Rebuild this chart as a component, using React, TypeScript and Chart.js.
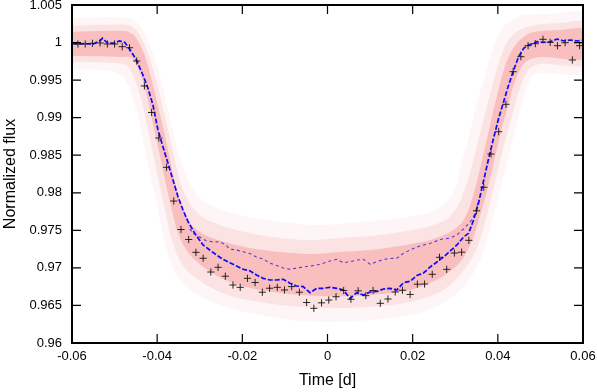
import React, { useEffect, useRef } from 'react';
import { Chart, registerables } from 'chart.js';

Chart.register(...registerables);

// Observed (binned) photometry
const OBS_TIME = [
  -0.0586, -0.0569, -0.0552, -0.0534, -0.0517, -0.0500, -0.0482, -0.0465, -0.0448, -0.0430,
  -0.0413, -0.0396, -0.0378, -0.0361, -0.0344, -0.0326, -0.0309, -0.0292, -0.0274, -0.0257,
  -0.0240, -0.0222, -0.0205, -0.0188, -0.0170, -0.0153, -0.0136, -0.0118, -0.0101, -0.0084,
  -0.0066, -0.0049, -0.0032, -0.0014, 0.0003, 0.0020, 0.0038, 0.0055, 0.0072, 0.0090,
  0.0107, 0.0124, 0.0142, 0.0159, 0.0176, 0.0194, 0.0211, 0.0228, 0.0246, 0.0263,
  0.0280, 0.0298, 0.0315, 0.0332, 0.0350, 0.0367, 0.0384, 0.0402, 0.0419, 0.0436,
  0.0454, 0.0471, 0.0488, 0.0506, 0.0523, 0.0540, 0.0558, 0.0575, 0.0592,
];
const OBS_FLUX = [
  0.99981, 0.99981, 0.99990, 0.99994, 0.99981, 0.99981, 0.99945, 0.99931, 0.99754, 0.99422,
  0.99069, 0.98729, 0.98339, 0.97890, 0.97511, 0.97378, 0.97207, 0.97128, 0.96945, 0.97008,
  0.96889, 0.96772, 0.96741, 0.96861, 0.96805, 0.96676, 0.96729, 0.96741, 0.96706, 0.96751,
  0.96676, 0.96539, 0.96462, 0.96535, 0.96572, 0.96616, 0.96699, 0.96582, 0.96695, 0.96630,
  0.96699, 0.96528, 0.96586, 0.96679, 0.96702, 0.96646, 0.96783, 0.96785, 0.96915, 0.97141,
  0.96981, 0.97198, 0.97209, 0.97367, 0.97760, 0.98073, 0.98516, 0.98813, 0.99178, 0.99612,
  0.99812, 0.99958, 0.99985, 1.00043, 1.00003, 0.99958, 0.99998, 0.99768, 0.99958,
];

// Best-fit model (lower blue dashed curve)
const MODEL_TIME = [
  -0.0600, -0.05824, -0.05659, -0.05518, -0.05353, -0.05282, -0.05188, -0.05047, -0.04882, -0.04765,
  -0.04687, -0.04607, -0.04489, -0.04334, -0.04216, -0.04099, -0.03981, -0.03864, -0.03746, -0.03628,
  -0.03511, -0.03393, -0.03275, -0.03118, -0.02922, -0.02765, -0.02607, -0.02452, -0.02294, -0.02136,
  -0.01981, -0.01824, -0.01666, -0.01511, -0.01353, -0.01195, -0.01040, -0.00882, -0.00725, -0.00569,
  -0.00412, -0.00254, -0.00099, 0.00059, 0.00216, 0.00372, 0.00529, 0.00687, 0.00842, 0.01000,
  0.01158, 0.01313, 0.01471, 0.01628, 0.01784, 0.01941, 0.02099, 0.02254, 0.02412, 0.02569,
  0.02725, 0.02882, 0.03040, 0.03195, 0.03313, 0.03431, 0.03541, 0.03659, 0.03776, 0.03901,
  0.04019, 0.04136, 0.04254, 0.04372, 0.04489, 0.04607, 0.04725, 0.04922, 0.05078, 0.05235,
  0.05393, 0.05548, 0.05706, 0.05864, 0.0600,
];
const MODEL_FLUX = [
  0.99987, 0.99981, 0.99987, 0.99974, 1.00021, 1.00057, 1.00003, 0.99990, 1.00021, 1.00003,
  0.99945, 0.99878, 0.99768, 0.99568, 0.99391, 0.99169, 0.98836, 0.98613, 0.98392, 0.98170,
  0.97948, 0.97771, 0.97615, 0.97460, 0.97305, 0.97238, 0.97172, 0.97114, 0.97069, 0.97025,
  0.96981, 0.96962, 0.96905, 0.96861, 0.96839, 0.96839, 0.96848, 0.96795, 0.96759, 0.96750,
  0.96670, 0.96728, 0.96728, 0.96742, 0.96728, 0.96706, 0.96592, 0.96670, 0.96639, 0.96679,
  0.96686, 0.96719, 0.96728, 0.96706, 0.96803, 0.96821, 0.96899, 0.96932, 0.97012, 0.97078,
  0.97145, 0.97225, 0.97305, 0.97411, 0.97460, 0.97638, 0.97850, 0.98143, 0.98436, 0.98729,
  0.98992, 0.99213, 0.99435, 0.99635, 0.99812, 0.99924, 0.99967, 1.00011, 1.00003, 1.00011,
  1.00047, 1.00021, 1.00034, 1.00021, 1.00034,
];

// Alternative model (upper thin dashed curve)
const ALT_TIME = [
  -0.03235, -0.03158, -0.03000, -0.02859, -0.02687, -0.02529, -0.02388, -0.02294, -0.02136, -0.01981,
  -0.01824, -0.01666, -0.01511, -0.01353, -0.01195, -0.01040, -0.00882, -0.00725, -0.00569, -0.00412,
  -0.00254, -0.00099, 0.00059, 0.00216, 0.00372, 0.00529, 0.00687, 0.00842, 0.01000, 0.01158,
  0.01313, 0.01471, 0.01628, 0.01784, 0.01941, 0.02099, 0.02254, 0.02412, 0.02647, 0.02882,
  0.03040, 0.03195, 0.03353, 0.03471, 0.03548,
];
const ALT_FLUX = [
  0.97518, 0.97460, 0.97411, 0.97365, 0.97345, 0.97349, 0.97305, 0.97251, 0.97238, 0.97215,
  0.97191, 0.97145, 0.97118, 0.97065, 0.97032, 0.96998, 0.96981, 0.96998, 0.97012, 0.97025,
  0.97038, 0.97061, 0.97092, 0.97114, 0.97069, 0.97082, 0.97105, 0.97114, 0.97048, 0.97082,
  0.97112, 0.97125, 0.97128, 0.97194, 0.97238, 0.97278, 0.97305, 0.97327, 0.97378, 0.97398,
  0.97438, 0.97518, 0.97611, 0.97727, 0.97904,
];

// Posterior model density (outline contours: outer, middle, core)
const CLOUD_OUTER_TIME = [
  -0.0610, -0.04647, -0.04365, -0.04129, -0.03941, -0.03800, -0.03659, -0.03518, -0.03329, -0.03118,
  -0.02765, -0.02059, -0.01118, -0.00176, 0.00765, 0.01706, 0.02412, 0.02835, 0.03024, 0.03165,
  0.03329, 0.03494, 0.03682, 0.03871, 0.04106, 0.04529, 0.05235, 0.0610,
  0.0610, 0.04882, 0.04624, 0.04459, 0.04294, 0.04129, 0.03941, 0.03776, 0.03588, 0.03235,
  0.02647, 0.01941, 0.01000, 0.00059, -0.00882, -0.01588, -0.02294, -0.03000, -0.03471, -0.03729,
  -0.03894, -0.04035, -0.04176, -0.04318, -0.04459, -0.04624, -0.04835, -0.05353, -0.0610,
];
const CLOUD_OUTER_FLUX = [
  1.00327, 1.00327, 1.00194, 0.99901, 0.99568, 0.99235, 0.98902, 0.98569, 0.98237, 0.98010,
  0.97837, 0.97704, 0.97611, 0.97571, 0.97611, 0.97664, 0.97744, 0.97904, 0.98103, 0.98436,
  0.98769, 0.99169, 0.99528, 0.99901, 1.00194, 1.00354, 1.00380, 1.00380,
  0.99608, 0.99581, 0.99302, 0.98942, 0.98569, 0.98197, 0.97797, 0.97438, 0.97105, 0.96772,
  0.96506, 0.96373, 0.96306, 0.96279, 0.96306, 0.96373, 0.96466, 0.96626, 0.96839, 0.97132,
  0.97531, 0.97904, 0.98277, 0.98663, 0.99036, 0.99342, 0.99568, 0.99635, 0.99635,
];
const CLOUD_MID_TIME = [
  -0.0610, -0.04694, -0.04459, -0.04224, -0.04035, -0.03894, -0.03753, -0.03612, -0.03471, -0.03282,
  -0.03000, -0.02529, -0.01824, -0.01118, -0.00412, 0.00294, 0.01000, 0.01706, 0.02412, 0.02835,
  0.03071, 0.03259, 0.03424, 0.03588, 0.03753, 0.03918, 0.04106, 0.04341, 0.04765, 0.05471, 0.0610,
  0.0610, 0.05000, 0.04718, 0.04506, 0.04341, 0.04176, 0.04012, 0.03847, 0.03682, 0.03471,
  0.03118, 0.02647, 0.01941, 0.01235, 0.00529, -0.00176, -0.00882, -0.01588, -0.02294, -0.02882,
  -0.03353, -0.03612, -0.03776, -0.03918, -0.04059, -0.04200, -0.04341, -0.04506, -0.04694, -0.05000, -0.0610,
];
const CLOUD_MID_FLUX = [
  1.00220, 1.00234, 1.00141, 0.99874, 0.99528, 0.99209, 0.98862, 0.98503, 0.98170, 0.97904,
  0.97704, 0.97571, 0.97464, 0.97398, 0.97371, 0.97398, 0.97424, 0.97478, 0.97558, 0.97664,
  0.97837, 0.98103, 0.98436, 0.98809, 0.99169, 0.99528, 0.99874, 1.00101, 1.00220, 1.00260, 1.00260,
  0.99714, 0.99714, 0.99635, 0.99368, 0.99036, 0.98703, 0.98330, 0.97930, 0.97571, 0.97211,
  0.96905, 0.96679, 0.96546, 0.96492, 0.96466, 0.96466, 0.96492, 0.96546, 0.96626, 0.96785,
  0.96998, 0.97291, 0.97664, 0.98037, 0.98410, 0.98796, 0.99169, 0.99475, 0.99688, 0.99728, 0.99741,
];
const CLOUD_CORE_TIME = [
  -0.0610, -0.04765, -0.04529, -0.04294, -0.04129, -0.03988, -0.03847, -0.03706, -0.03565, -0.03400,
  -0.03188, -0.02882, -0.02412, -0.01824, -0.01118, -0.00412, 0.00294, 0.01000, 0.01706, 0.02412,
  0.02882, 0.03165, 0.03353, 0.03518, 0.03682, 0.03847, 0.04012, 0.04176, 0.04412, 0.04765, 0.05471, 0.0610,
  0.0610, 0.05000, 0.04647, 0.04412, 0.04247, 0.04082, 0.03918, 0.03753, 0.03588, 0.03400,
  0.03118, 0.02647, 0.01941, 0.01235, 0.00529, -0.00176, -0.00882, -0.01588, -0.02294, -0.02882,
  -0.03282, -0.03518, -0.03682, -0.03824, -0.03965, -0.04106, -0.04247, -0.04412, -0.04600, -0.04882, -0.0610,
];
const CLOUD_CORE_FLUX = [
  1.00141, 1.00154, 1.00087, 0.99834, 0.99501, 0.99169, 0.98836, 0.98463, 0.98103, 0.97797,
  0.97571, 0.97438, 0.97345, 0.97265, 0.97211, 0.97185, 0.97211, 0.97238, 0.97291, 0.97371,
  0.97478, 0.97611, 0.97837, 0.98170, 0.98569, 0.98969, 0.99368, 0.99701, 0.99967, 1.00127, 1.00167, 1.00167,
  0.99794, 0.99808, 0.99741, 0.99501, 0.99169, 0.98836, 0.98436, 0.98037, 0.97704, 0.97371,
  0.97078, 0.96865, 0.96706, 0.96652, 0.96626, 0.96626, 0.96652, 0.96706, 0.96812, 0.96998,
  0.97211, 0.97478, 0.97837, 0.98197, 0.98569, 0.98942, 0.99302, 0.99608, 0.99794, 0.99808, 0.99821,
];

const X_TICKS = [-0.06, -0.04, -0.02, 0, 0.02, 0.04, 0.06];
const Y_TICKS = [0.96, 0.965, 0.97, 0.975, 0.98, 0.985, 0.99, 0.995, 1.0, 1.005];

const X_TITLE = 'Time [d]';
const Y_TITLE = 'Normalized flux';

const FONT_FAMILY = '"Liberation Sans", Arial, Helvetica, sans-serif';

const pts = (xs: number[], ys: number[]) => xs.map((x, i) => ({ x, y: ys[i] }));

const framePlugin = {
  id: 'gnuFrame',
  afterDraw(chart: any) {
    const { ctx, chartArea: a, scales } = chart;
    const xs = scales.x;
    const ys = scales.y;
    const L = 9;
    ctx.save();
    ctx.strokeStyle = '#000';
    ctx.lineWidth = 1.2;
    ctx.beginPath();
    X_TICKS.forEach((v) => {
      const px = xs.getPixelForValue(v);
      ctx.moveTo(px, a.bottom);
      ctx.lineTo(px, a.bottom - L);
      ctx.moveTo(px, a.top);
      ctx.lineTo(px, a.top + L);
    });
    Y_TICKS.forEach((v) => {
      const py = ys.getPixelForValue(v);
      ctx.moveTo(a.left, py);
      ctx.lineTo(a.left + L, py);
      ctx.moveTo(a.right, py);
      ctx.lineTo(a.right - L, py);
    });
    ctx.stroke();
    ctx.lineWidth = 2;
    ctx.strokeRect(a.left, a.top, a.right - a.left, a.bottom - a.top);
    ctx.restore();
  },
};

export default function App() {
  const canvasRef = useRef<HTMLCanvasElement | null>(null);

  useEffect(() => {
    if (!canvasRef.current) return;
    const cloud = (xs: number[], ys: number[], color: string) => ({
      type: 'line' as const,
      data: pts(xs, ys),
      fill: 'shape',
      backgroundColor: color,
      borderWidth: 0,
      borderColor: 'rgba(0,0,0,0)',
      pointRadius: 0,
      tension: 0.3,
    });
    const chart = new Chart(canvasRef.current, {
      type: 'line',
      data: {
        datasets: [
          {
            type: 'line',
            data: pts(OBS_TIME, OBS_FLUX),
            showLine: false,
            pointStyle: 'cross',
            pointRadius: 3.6,
            pointBorderWidth: 1,
            pointBorderColor: 'rgba(20,20,20,0.9)',
            borderColor: 'rgba(20,20,20,0.9)',
          },
          {
            type: 'line',
            data: pts(MODEL_TIME, MODEL_FLUX),
            borderColor: '#0a0aff',
            borderWidth: 1.7,
            borderDash: [5, 2],
            pointRadius: 0,
            fill: false,
            tension: 0,
          },
          {
            type: 'line',
            data: pts(ALT_TIME, ALT_FLUX),
            borderColor: '#5a3ccf',
            borderWidth: 1.1,
            borderDash: [3, 3],
            pointRadius: 0,
            fill: false,
            tension: 0,
          },
          cloud(CLOUD_CORE_TIME, CLOUD_CORE_FLUX, 'rgba(238,72,72,0.24)'),
          cloud(CLOUD_MID_TIME, CLOUD_MID_FLUX, 'rgba(238,72,72,0.11)'),
          cloud(CLOUD_OUTER_TIME, CLOUD_OUTER_FLUX, 'rgba(238,72,72,0.05)'),
        ] as any,
      },
      options: {
        animation: false,
        responsive: false,
        devicePixelRatio: 1,
        layout: { padding: { top: 5, right: 14, left: 0, bottom: 0 } },
        plugins: {
          legend: { display: false },
          tooltip: { enabled: false },
        },
        scales: {
          x: {
            type: 'linear',
            min: -0.06,
            max: 0.06,
            grid: { display: false, drawTicks: false },
            border: { display: false },
            afterBuildTicks: (s: any) => {
              s.ticks = X_TICKS.map((value) => ({ value }));
            },
            afterFit: (s: any) => {
              s.height = 49;
              s.paddingLeft = 0;
              s.paddingRight = 0;
            },
            ticks: {
              autoSkip: false,
              maxRotation: 0,
              padding: 6,
              color: '#000',
              font: { family: FONT_FAMILY, size: 13 },
              callback: (v: any) => String(Number(Number(v).toFixed(4))),
            },
            title: {
              display: true,
              text: X_TITLE,
              color: '#000',
              font: { family: FONT_FAMILY, size: 16 },
              padding: { top: 0, bottom: 1.5 },
            },
          },
          y: {
            type: 'linear',
            min: 0.96,
            max: 1.005,
            grid: { display: false, drawTicks: false },
            border: { display: false },
            afterBuildTicks: (s: any) => {
              s.ticks = Y_TICKS.map((value) => ({ value }));
            },
            afterFit: (s: any) => {
              s.width = 72;
              s.paddingTop = 0;
              s.paddingBottom = 0;
            },
            ticks: {
              autoSkip: false,
              padding: 10,
              color: '#000',
              font: { family: FONT_FAMILY, size: 13 },
              callback: (v: any) => String(Number(Number(v).toFixed(4))),
            },
            title: {
              display: true,
              text: Y_TITLE,
              color: '#000',
              font: { family: FONT_FAMILY, size: 16 },
              padding: { top: 0.5, bottom: 0 },
            },
          },
        },
      } as any,
      plugins: [framePlugin],
    });
    return () => chart.destroy();
  }, []);

  return (
    <div style={{ position: 'absolute', left: 0, top: 0, width: 597, height: 392, background: '#fff' }}>
      <canvas ref={canvasRef} width={597} height={392} style={{ width: 597, height: 392, display: 'block' }} />
    </div>
  );
}
